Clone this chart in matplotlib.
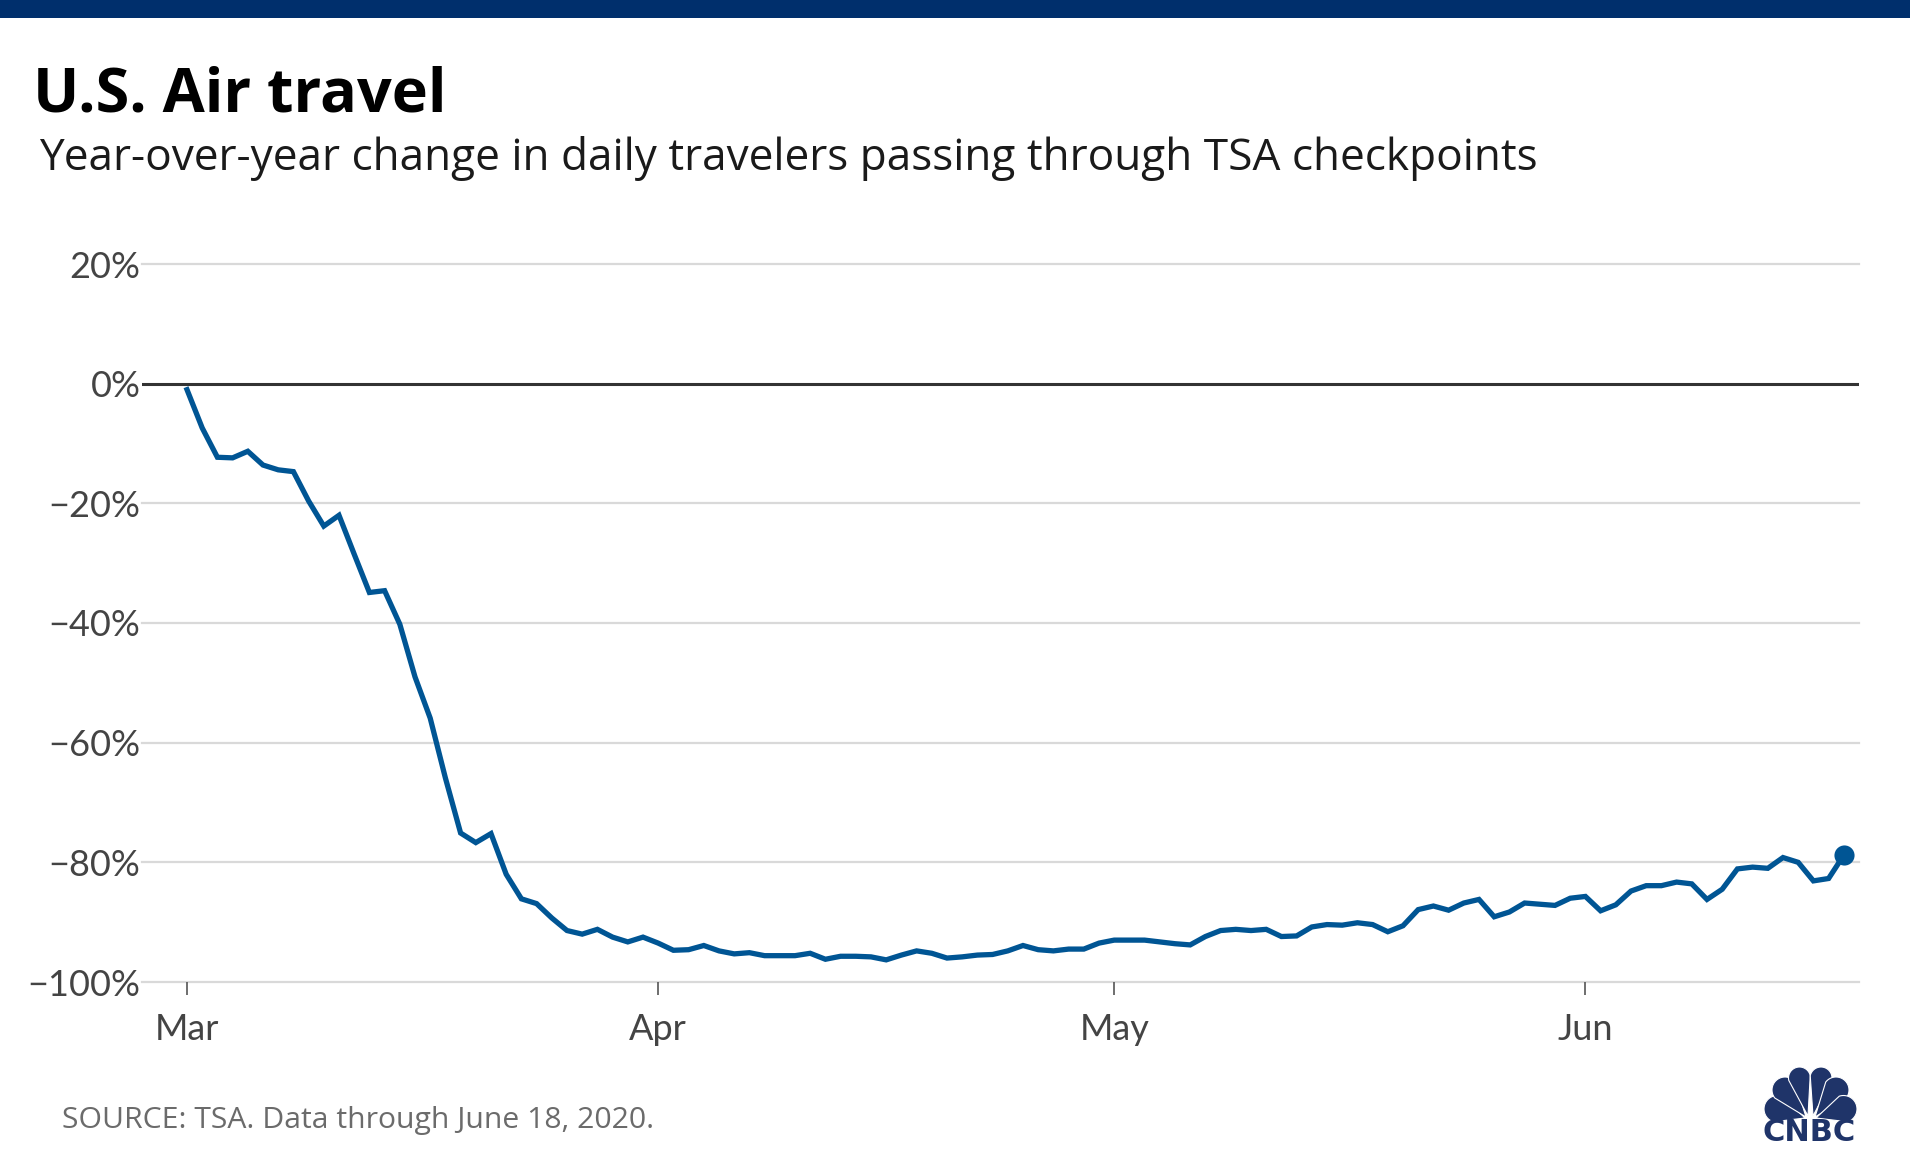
import numpy as np
import pandas as pd
import matplotlib
matplotlib.use("Agg")
import matplotlib.pyplot as plt
import matplotlib.dates as mdates
from matplotlib.patches import Polygon, Rectangle

# Year-over-year change in TSA checkpoint travelers (%)
start_date = "2020-03-01"
end_date = "2020-06-18"
march = [-1.0, -7.4, -12.3, -12.4, -11.3, -13.6, -14.4, -14.7, -19.6, -23.8,
         -22.0, -28.5, -34.9, -34.6, -40.2, -49.0, -55.9, -65.9, -75.1, -76.7,
         -75.2, -82.0, -86.1, -86.9, -89.3, -91.4, -92.0, -91.2, -92.5, -93.3,
         -92.5]
april = [-93.5, -94.7, -94.6, -93.9, -94.8, -95.3, -95.1, -95.6, -95.6, -95.6,
         -95.2, -96.2, -95.7, -95.7, -95.8, -96.3, -95.5, -94.8, -95.2, -96.0,
         -95.8, -95.5, -95.4, -94.8, -93.9, -94.6, -94.8, -94.5, -94.5, -93.5]
may = [-93.0, -93.0, -93.0, -93.3, -93.6, -93.8, -92.4, -91.4, -91.2, -91.4,
       -91.2, -92.4, -92.3, -90.8, -90.4, -90.5, -90.1, -90.4, -91.6, -90.6,
       -87.9, -87.3, -88.0, -86.8, -86.2, -89.1, -88.3, -86.8, -87.0, -87.2,
       -86.0]
june = [-85.7, -88.1, -87.1, -84.8, -83.9, -83.9, -83.3, -83.6, -86.2, -84.5,
        -81.1, -80.8, -81.0, -79.2, -80.0, -83.1, -82.7, -78.8]

y_ticks = [20, 0, -20, -40, -60, -80, -100]
y_labels = ["20%", "0%", "\u221220%", "\u221240%", "\u221260%", "\u221280%", "\u2212100%"]
month_ticks = ["2020-03-01", "2020-04-01", "2020-05-01", "2020-06-01"]
month_labels = ["Mar", "Apr", "May", "Jun"]

W, H = 1910, 1161
BLUE = "#005594"
NAVY = "#002f6c"
LOGO = "#1f3469"

plt.rcParams["font.family"] = ["Lato", "DejaVu Sans"]

dates = pd.date_range(start_date, end_date)
values = np.array(march + april + may + june)

fig = plt.figure(figsize=(W / 100, H / 100), dpi=100, facecolor="white")

# plot area, pixel positions
left, right, top, bottom = 142, 1859, 264, 982
ax = fig.add_axes([left / W, 1 - bottom / H, (right - left) / W, (bottom - top) / H])
ax.set_ylim(-100, 20)
day0 = mdates.date2num(dates[0])
ax.set_xlim(day0 - (187 - left) / 15.2, day0 + (right - 187) / 15.2)

for s in ax.spines.values():
    s.set_visible(False)

for v in y_ticks:
    if v != 0:
        ax.axhline(v, color="#d9d9d9", lw=1.6, zorder=1, clip_on=False)
ax.axhline(0, color="#333333", lw=2.2, zorder=2)

ax.plot(dates, values, color=BLUE, lw=3.8, solid_joinstyle="miter", zorder=3)
ax.plot(dates[-1], values[-1], "o", color=BLUE, ms=14.5, mew=0, zorder=4, clip_on=False)

ax.set_yticks(y_ticks)
ax.set_yticklabels(y_labels, fontsize=26, color="#444444")
ax.tick_params(axis="y", length=0, pad=1)
ax.set_xticks(pd.to_datetime(month_ticks))
ax.set_xticklabels(month_labels, fontsize=26, color="#444444")
ax.tick_params(axis="x", length=9, width=1.2, color="#555555", pad=13)

# overlay in pixel coordinates for the header, source and logo
ov = fig.add_axes([0, 0, 1, 1], zorder=-1)
ov.set_xlim(0, W)
ov.set_ylim(H, 0)
ov.axis("off")

ov.add_patch(Rectangle((0, 0), W, 17.5, color=NAVY, lw=0))
ov.text(33, 112, "U.S. Air travel", fontsize=44, fontweight="bold", family=["Open Sans", "DejaVu Sans"],
        color="black", va="baseline")
ov.text(39, 170, "Year-over-year change in daily travelers passing through TSA checkpoints",
        fontsize=31.8, family=["Open Sans", "DejaVu Sans"], color="#1a1a1a", va="baseline")
ov.text(62, 1128, "SOURCE: TSA. Data through June 18, 2020.", fontsize=21.7,
        family=["Open Sans", "DejaVu Sans"], color="#6b6b6b", va="baseline")


def petal(base, head, r):
    base, head = np.array(base), np.array(head)
    th = np.arctan2(*(head - base)[::-1])
    a = np.linspace(th - np.pi / 2, th + np.pi / 2, 30)
    arc = np.column_stack([head[0] + r * np.cos(a), head[1] + r * np.sin(a)])
    return Polygon(np.vstack([base, arc]), closed=True, fc=LOGO, ec="white", lw=0.8)


petals = [((1805, 1118), (1777.5, 1109), 13.5), ((1806, 1117), (1785, 1090), 13),
          ((1808, 1116), (1799.5, 1078), 11), ((1813, 1116), (1821, 1078), 11),
          ((1815, 1117), (1836, 1090), 13), ((1816, 1118), (1843.5, 1109), 13.5)]
for b, h, r in petals:
    ov.add_patch(petal(b, h, r))
ov.text(1809.5, 1141, "CNBC", fontsize=22, fontweight="bold", family="DejaVu Sans", color=LOGO,
        ha="center", va="baseline")

fig.savefig("out.png", dpi=100)
